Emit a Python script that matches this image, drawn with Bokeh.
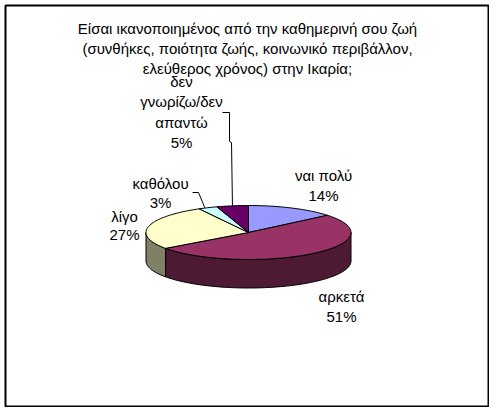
import math
from bokeh.plotting import figure
from bokeh.models import Range1d
from bokeh.core.properties import value
from bokeh.embed import file_html
from bokeh.resources import INLINE

title_lines = ["Είσαι ικανοποιημένος από την καθημερινή σου ζωή",
               "(συνθήκες, ποιότητα ζωής, κοινωνικό περιβάλλον,",
               "ελεύθερος χρόνος) στην Ικαρία;"]
categories = ["ναι πολύ", "αρκετά", "λίγο", "καθόλου", "δεν γνωρίζω/δεν απαντώ"]
values = [14, 51, 27, 3, 5]
top_colors = ["#9999FF", "#993366", "#FFFFCC", "#CCFFFF", "#660066"]
side_colors = ["#4C4C80", "#4D1A33", "#808066", "#668080", "#330033"]

label_lines = [["ναι πολύ", "14%"], ["αρκετά", "51%"], ["λίγο", "27%"], ["καθόλου", "3%"],
               ["δεν", "γνωρίζω/δεν", "απαντώ", "5%"]]
label_x = [323, 341, 124, 160, 181]
label_y = [175, 296, 216, 183, 81]
label_step = [19.5, 20, 18, 18.5, 20.3]

CX, CY, RX, RY, DEPTH = 248, 232, 102.5, 27, 28.5
FONT = value("Liberation Sans")
FS = "15px"

p = figure(width=489, height=407, output_backend="svg", toolbar_location=None,
           x_range=Range1d(0, 489), y_range=Range1d(407, 0), min_border=0,
           outline_line_color=None)
p.axis.visible = False
p.grid.visible = False

p.quad(left=[5], right=[488], top=[5], bottom=[406], fill_color="white",
       line_color="black", line_width=2)

def rim(frac, dy=0.0):
    t = 2 * math.pi * frac
    return CX + RX * math.sin(t), CY - RY * math.cos(t) + dy

def arc(f0, f1, dy=0.0):
    n = max(2, int(abs(f1 - f0) * 200))
    return [rim(f0 + (f1 - f0) * i / n, dy) for i in range(n + 1)]

total = sum(values)
edges = [0.0]
for v in values:
    edges.append(edges[-1] + v / total)

# visible side wall: lower half of the rim
for i, c in enumerate(side_colors):
    a, b = max(edges[i], 0.25), min(edges[i + 1], 0.75)
    if a < b:
        pts = arc(a, b) + arc(b, a, DEPTH)
        p.patch([q[0] for q in pts], [q[1] for q in pts], fill_color=c,
                line_color="black", line_width=1)

# top faces
for i, c in enumerate(top_colors):
    pts = [(CX, CY)] + arc(edges[i], edges[i + 1])
    p.patch([q[0] for q in pts], [q[1] for q in pts], fill_color=c,
            line_color="black", line_width=1)

# leader lines
ex, ey = rim((edges[4] + edges[5]) / 2)
p.line([222, 229, 229, 231, ex], [112, 112, 141, 142, ey], line_color="black", line_width=1)
ex, ey = rim((edges[3] + edges[4]) / 2)
p.line([192, 198, ex - 3], [192, 192, ey], line_color="black", line_width=1)

# texts
p.text(x=[247] * 3, y=[28, 48, 68], text=title_lines, text_font=FONT, text_font_size=FS,
       text_align="center", text_baseline="middle", text_color="black")
for lines, x, y, step in zip(label_lines, label_x, label_y, label_step):
    p.text(x=[x] * len(lines), y=[y + k * step for k in range(len(lines))], text=lines,
           text_font=FONT, text_font_size=FS, text_align="center", text_baseline="middle",
           text_color="black")

open("out.html", "w").write(file_html(p, INLINE))
